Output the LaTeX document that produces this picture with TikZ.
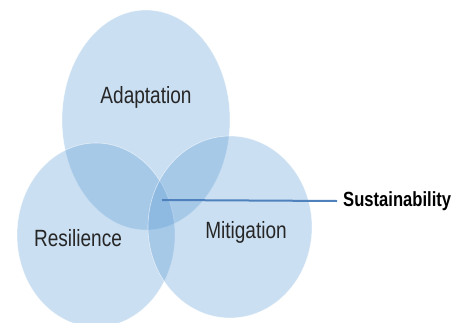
\documentclass[tikz,border=0pt]{standalone}
\usepackage{fontspec}
\setmainfont{Liberation Sans}
\newfontfamily\narrowfont[FakeStretch=0.81]{Liberation Sans}
\usepackage{tikz}
\usetikzlibrary{positioning}

\definecolor{ringblue}{RGB}{91,155,213}
\definecolor{linkblue}{RGB}{79,129,189}

\tikzset{
  ring/.style={fill=ringblue, fill opacity=0.32, draw=white, draw opacity=0.6, line width=0.6pt},
  setlabel/.style={font=\narrowfont\fontsize{23.5}{26}\selectfont, text=black!85},
}

\begin{document}
\begin{tikzpicture}[x=1pt,y=1pt]
            \useasboundingbox (0,0) rectangle (462,322);
            \clip (0,0) rectangle (462,322);

            \draw[ring] (146,202) ellipse [x radius=84, y radius=110];
            \draw[ring] (96,87) ellipse [x radius=79, y radius=92];
            \draw[ring] (230,95) ellipse [x radius=82, y radius=91];

            \draw (146,225) node[setlabel]                  (adapt) {Adaptation};
            \draw (78,84) node[setlabel]                    (resil) {Resilience};
            \draw (246,90) node[setlabel]                   (mitig) {Mitigation};

            \coordinate (core) at (162,122);
            \draw (343,121) node[anchor=west, inner sep=0pt,
                font=\narrowfont\bfseries\fontsize{20.5}{23}\selectfont] (sust) {Sustainability};

            \draw[linkblue, line width=2pt] (core) -- ([xshift=-6pt]sust.west);

\end{tikzpicture}
\end{document}
